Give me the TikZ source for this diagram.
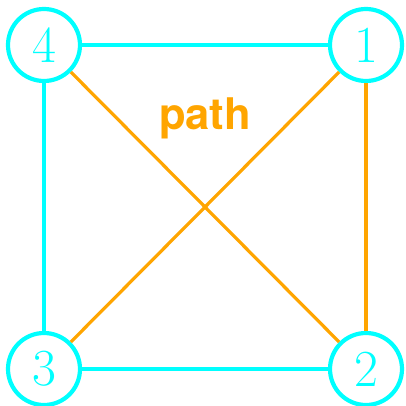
\documentclass[tikz,border=0pt]{standalone}
\usepackage{fontspec}
\newfontfamily\labelfont{TeX Gyre Heros}
\usepackage{tikz}
\usetikzlibrary{positioning}
\definecolor{vcyan}{RGB}{0,255,255}
\definecolor{porange}{RGB}{255,165,0}
\tikzstyle{vertex} = [circle, draw=vcyan, line width=1.05mm, minimum size=18mm, inner sep=0pt, text=vcyan, font=\fontsize{37}{40}\selectfont]
\tikzstyle{edge} = [draw=vcyan, line width=1mm]
\tikzstyle{pathedge} = [draw=porange, line width=0.8mm]

\begin{document}
\begin{tikzpicture}[x=0.25mm, y=-0.25mm]
\useasboundingbox (0,0) rectangle (406,406);

% Vertices
\node (v4) [vertex] at (44,45) {4};
\node (v1) [vertex] at (366,45) {1};
\node (v3) [vertex] at (44,369) {3};
\node (v2) [vertex] at (366,369) {2};

% Label
\node (lbl) at (205,118) {\labelfont\bfseries\color{porange}\fontsize{31}{33}\selectfont path};

% Edges
\draw [edge] (v4) -- (v1);
\draw [edge] (v4) -- (v3);
\draw [edge] (v3) -- (v2);
\draw [pathedge] (v4) -- (v2);
\draw [pathedge] (v1) -- (v3);
\draw [pathedge] (v1) -- (v2);

\end{tikzpicture}
\end{document}
